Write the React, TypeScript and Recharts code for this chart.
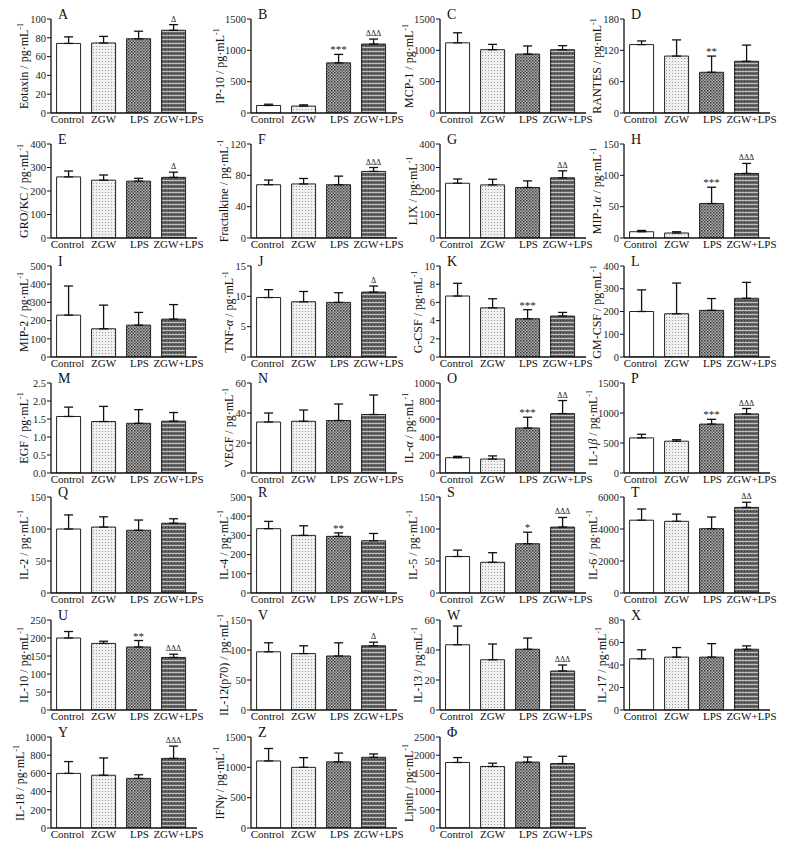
import React from 'react';
import { ComposedChart, Bar, Cell, ErrorBar, Line, LabelList, XAxis, YAxis } from 'recharts';

const groups = ['Control', 'ZGW', 'LPS', 'ZGW+LPS'];

const panelLetters = ['A', 'B', 'C', 'D', 'E', 'F', 'G', 'H', 'I', 'J', 'K', 'L', 'M', 'N', 'O', 'P', 'Q', 'R', 'S', 'T', 'U', 'V', 'W', 'X', 'Y', 'Z', 'Φ'];

const analytes = [
  'Eotaxin', 'IP-10', 'MCP-1', 'RANTES',
  'GRO/KC', 'Fractalkine', 'LIX', 'MIP-1α',
  'MIP-2', 'TNF-α', 'G-CSF', 'GM-CSF',
  'EGF', 'VEGF', 'IL-α', 'IL-1β',
  'IL-2', 'IL-4', 'IL-5', 'IL-6',
  'IL-10', 'IL-12(p70)', 'IL-13', 'IL-17',
  'IL-18', 'IFNγ', 'Liptin',
];

const yTicks = [
  [0, 20, 40, 60, 80, 100], [0, 500, 1000, 1500], [0, 500, 1000, 1500], [0, 60, 120, 180],
  [0, 100, 200, 300, 400], [0, 40, 80, 120], [0, 100, 200, 300, 400], [0, 50, 100, 150],
  [0, 100, 200, 300, 400, 500], [0, 5, 10, 15], [0, 2, 4, 6, 8, 10], [0, 100, 200, 300, 400],
  [0, 0.5, 1, 1.5, 2, 2.5], [0, 20, 40, 60], [0, 200, 400, 600, 800, 1000], [0, 500, 1000, 1500],
  [0, 50, 100, 150], [0, 100, 200, 300, 400, 500], [0, 50, 100, 150], [0, 2000, 4000, 6000],
  [0, 50, 100, 150, 200, 250], [0, 50, 100, 150], [0, 20, 40, 60], [0, 20, 40, 60, 80],
  [0, 200, 400, 600, 800, 1000], [0, 500, 1000, 1500], [0, 500, 1000, 1500, 2000, 2500],
];

// group means, order: Control, ZGW, LPS, ZGW+LPS
const means = [
  [74, 74.5, 79, 88], [120, 110, 800, 1100], [1120, 1010, 940, 1010], [131, 109, 78, 99],
  [260, 246, 242, 258], [68, 69, 68, 85], [233, 226, 215, 256], [10, 8, 55, 103],
  [230, 155, 175, 208], [9.8, 9.1, 9.0, 10.7], [6.7, 5.4, 4.2, 4.5], [200, 190, 205, 258],
  [1.57, 1.43, 1.38, 1.44], [34, 34.5, 35, 39], [170, 155, 500, 660], [585, 530, 815, 985],
  [100, 103, 98, 109], [335, 300, 295, 272], [57, 48, 77, 103], [4550, 4480, 4020, 5350],
  [200, 185, 175, 146], [97, 94, 90, 107], [43.5, 33.5, 40.5, 26], [45.5, 47, 47, 54],
  [600, 580, 545, 765], [1105, 1000, 1090, 1165], [1800, 1690, 1810, 1770],
];

// upper error (SD)
const errors = [
  [7, 7, 8, 6], [20, 20, 135, 80], [160, 85, 130, 65], [7, 31, 31, 31],
  [25, 22, 12, 22], [6, 7, 11, 5], [18, 24, 28, 30], [2, 2, 26, 16],
  [160, 130, 70, 80], [1.3, 1.7, 1.6, 1.0], [1.4, 1.0, 1.0, 0.4], [95, 135, 52, 70],
  [0.26, 0.42, 0.38, 0.24], [6, 7.5, 11, 13], [15, 35, 120, 145], [60, 25, 80, 90],
  [22, 16, 16, 7], [38, 50, 18, 38], [10, 15, 18, 15], [700, 450, 730, 320],
  [18, 6, 18, 9], [15, 13, 22, 6], [12.5, 10.5, 7.5, 4], [8, 8.5, 12, 3],
  [130, 190, 40, 135], [205, 160, 145, 55], [135, 90, 140, 200],
];

const marks = [
  ['', '', '', 'Δ'], ['', '', '***', 'ΔΔΔ'], ['', '', '', ''], ['', '', '**', ''],
  ['', '', '', 'Δ'], ['', '', '', 'ΔΔΔ'], ['', '', '', 'ΔΔ'], ['', '', '***', 'ΔΔΔ'],
  ['', '', '', ''], ['', '', '', 'Δ'], ['', '', '***', ''], ['', '', '', ''],
  ['', '', '', ''], ['', '', '', ''], ['', '', '***', 'ΔΔ'], ['', '', '***', 'ΔΔΔ'],
  ['', '', '', ''], ['', '', '**', ''], ['', '', '*', 'ΔΔΔ'], ['', '', '', 'ΔΔ'],
  ['', '', '**', 'ΔΔΔ'], ['', '', '', 'Δ'], ['', '', '', 'ΔΔΔ'], ['', '', '', ''],
  ['', '', '', 'ΔΔΔ'], ['', '', '', ''], ['', '', '', ''],
];

const SERIF = '"Liberation Serif", "Times New Roman", serif';
const colAxisX = [51, 251, 440, 624];
const rowTop = [19, 144, 266, 383, 497, 620, 737];
const rowBase = [113, 238, 357, 473, 593, 710, 828];
const PLOT_W = 146;
const Y_AXIS_W = 40;
const M_TOP = 16;
const M_RIGHT = 18;
const X_AXIS_H = 16;
const labelShift = [-1, 0, 1, 5];

const fills = ['#ffffff', 'url(#pZGW)', 'url(#pLPS)', 'url(#pZL)'];

function Patterns() {
  return (
    <svg width={0} height={0} style={{ position: 'absolute' }}>
      <defs>
        <pattern id="pZGW" width={3} height={3} patternUnits="userSpaceOnUse">
          <rect width={3} height={3} fill="#f0f0f0" />
          <rect x={1} y={1} width={1} height={1} fill="#a0a0a0" />
        </pattern>
        <pattern id="pLPS" width={3} height={3} patternUnits="userSpaceOnUse">
          <rect width={3} height={3} fill="#b0b0b0" />
          <rect x={0} y={0} width={1.5} height={1.5} fill="#3a3a3a" />
          <rect x={1.5} y={1.5} width={1.5} height={1.5} fill="#5a5a5a" />
        </pattern>
        <pattern id="pZL" width={3} height={4} patternUnits="userSpaceOnUse">
          <rect width={3} height={4} fill="#666666" />
          <rect x={0} y={0} width={3} height={1} fill="#c0c0c0" />
          <rect x={1} y={2} width={1} height={1} fill="#2a2a2a" />
        </pattern>
      </defs>
    </svg>
  );
}

function nameText(name: string) {
  return name.split(/([αβγ])/).map((part, k) =>
    /[αβγ]/.test(part) ? <i key={k}>{part}</i> : <span key={k}>{part}</span>
  );
}

function GroupTick(props: any) {
  const { x, y, payload, index } = props;
  return (
    <text
      x={x + (labelShift[index] ?? 0)}
      y={y + 8}
      textAnchor="middle"
      fontSize={11}
      fontFamily={SERIF}
      fill="#111"
    >
      {payload.value}
    </text>
  );
}

function Panel({ i }: { i: number }) {
  const row = Math.floor(i / 4);
  const col = i % 4;
  const top = rowTop[row];
  const base = rowBase[row];
  const axisX = colAxisX[col];
  const ticks = yTicks[i];
  const max = ticks[ticks.length - 1];
  const decimals = ticks.some((t) => !Number.isInteger(t)) ? 1 : 0;
  const data = groups.map((g, k) => {
    const m = marks[i][k];
    return {
      group: g,
      mean: means[i][k],
      err: [0, errors[i][k]],
      top: means[i][k] + errors[i][k],
      star: m.startsWith('*') ? m : '',
      delta: m.startsWith('Δ') ? m : '',
    };
  });
  const plotH = base - top;
  const width = Y_AXIS_W + PLOT_W + M_RIGHT;
  const height = plotH + M_TOP + X_AXIS_H;
  const maxChars = Math.max(...ticks.map((t) => t.toFixed(decimals).length));
  const labelOff = maxChars * 4.6 + 13;

  return (
    <>
      <div style={{ position: 'absolute', left: axisX - Y_AXIS_W, top: top - M_TOP }}>
        <ComposedChart
          width={width}
          height={height}
          data={data}
          margin={{ top: M_TOP, right: M_RIGHT, bottom: 0, left: 0 }}
          barCategoryGap="16%"
        >
          <XAxis
            dataKey="group"
            interval={0}
            tickLine={false}
            tickSize={0}
            tickMargin={2}
            height={X_AXIS_H}
            padding={{ left: 0, right: 6 }}
            axisLine={{ stroke: '#111', strokeWidth: 1.3 }}
            tick={<GroupTick />}
          />
          <YAxis
            width={Y_AXIS_W}
            domain={[0, max]}
            ticks={ticks}
            interval={0}
            allowDataOverflow
            tickSize={4}
            tickMargin={1}
            tickFormatter={(v: number) => v.toFixed(decimals)}
            axisLine={{ stroke: '#111', strokeWidth: 1.3 }}
            tickLine={{ stroke: '#111' }}
            tick={{ fontSize: 10.5, fill: '#222', fontFamily: SERIF }}
          />
          <Bar dataKey="mean" stroke="#222" strokeWidth={1} isAnimationActive={false}>
            {data.map((d, k) => (
              <Cell key={d.group} fill={fills[k]} />
            ))}
            <ErrorBar dataKey="err" width={4.5} stroke="#111" strokeWidth={1.3} direction="y" />
          </Bar>
          <Line
            dataKey="top"
            stroke="transparent"
            dot={false}
            activeDot={false}
            legendType="none"
            isAnimationActive={false}
          >
            <LabelList
              dataKey="star"
              position="top"
              offset={1}
              fontSize={11}
              fill="#222"
              stroke="none"
              style={{ fill: '#222', stroke: 'none' }}
              fontFamily={SERIF}
            />
            <LabelList
              dataKey="delta"
              position="top"
              offset={3}
              fontSize={8}
              fill="#222"
              stroke="none"
              style={{ fill: '#222', stroke: 'none' }}
              fontFamily={SERIF}
            />
          </Line>
        </ComposedChart>
      </div>
      <div
        style={{
          position: 'absolute',
          left: axisX - labelOff,
          top: (top + base) / 2,
          transform: 'translate(-50%, -50%) rotate(-90deg)',
          whiteSpace: 'nowrap',
          fontSize: 12,
          lineHeight: '13px',
          fontFamily: SERIF,
          color: '#111',
        }}
      >
        {nameText(analytes[i])} / pg·mL
        <span style={{ fontSize: 8, verticalAlign: 'super', lineHeight: 0 }}>-1</span>
      </div>
      <div
        style={{
          position: 'absolute',
          left: axisX + 7,
          top: top - 11,
          fontSize: 14,
          lineHeight: '14px',
          fontFamily: SERIF,
          color: '#111',
        }}
      >
        {panelLetters[i]}
      </div>
    </>
  );
}

export default function App() {
  return (
    <div
      style={{
        position: 'absolute',
        left: 0,
        top: 0,
        width: 796,
        height: 851,
        background: '#fff',
        overflow: 'hidden',
      }}
    >
      <Patterns />
      {analytes.map((a, i) => (
        <Panel key={a} i={i} />
      ))}
    </div>
  );
}
